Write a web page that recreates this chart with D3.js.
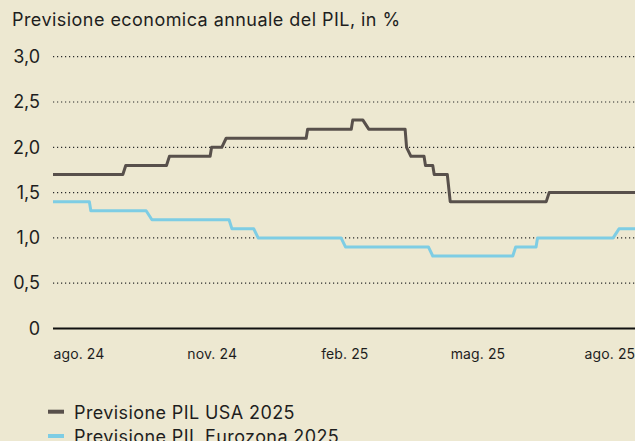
<!DOCTYPE html>
<html>
<head>
<meta charset="utf-8">
<script src="https://cdn.jsdelivr.net/npm/d3@7"></script>
<style>
  html, body { margin: 0; padding: 0; background: #ede8d1; }
  svg { display: block; font-family: Inter, "Noto Sans", sans-serif; }
</style>
</head>
<body>
<div id="chart"></div>
<script>
// step changes of the consensus forecast (each change has a start and end date)
const usaDates = ["2024-08-01","2024-09-18","2024-09-20","2024-10-18","2024-10-20","2024-11-17","2024-11-18",
  "2024-11-25","2024-11-28","2025-01-22","2025-01-23","2025-02-22","2025-02-23","2025-03-02","2025-03-06",
  "2025-03-31","2025-04-01","2025-04-04","2025-04-13","2025-04-14","2025-04-19","2025-04-20","2025-04-29",
  "2025-05-01","2025-07-06","2025-07-08","2025-09-05"];
const usaValues = [1.7,1.7,1.8,1.8,1.9,1.9,2.0,
  2.0,2.1,2.1,2.2,2.2,2.3,2.3,2.2,
  2.2,2.0,1.9,1.9,1.8,1.8,1.7,1.7,
  1.4,1.4,1.5,1.5];

const euroDates = ["2024-08-01","2024-08-26","2024-08-27","2024-10-04","2024-10-08","2024-11-30","2024-12-02",
  "2024-12-17","2024-12-20","2025-02-15","2025-02-18","2025-04-16","2025-04-19","2025-06-13","2025-06-15",
  "2025-06-29","2025-06-30","2025-08-21","2025-08-25","2025-09-05"];
const euroValues = [1.4,1.4,1.3,1.3,1.2,1.2,1.1,
  1.1,1.0,1.0,0.9,0.9,0.8,0.8,0.9,
  0.9,1.0,1.0,1.1,1.1];

const xTickDates = ["2024-08-01","2024-11-01","2025-02-01","2025-05-01","2025-08-01"];
const xTickLabels = ["ago. 24","nov. 24","feb. 25","mag. 25","ago. 25"];
const yTicks = [0, 0.5, 1, 1.5, 2, 2.5, 3];

const seriesNames = ["Previsione PIL USA 2025", "Previsione PIL Eurozona 2025"];
const seriesColors = ["#58504b", "#7ecde4"];

const width = 635, height = 441;
const margin = {left: 53, right: 0, top: 56.7, bottom: 112.5};

const parse = d3.utcParse("%Y-%m-%d");

const svg = d3.select("#chart").append("svg")
  .attr("width", width)
  .attr("height", height);

const x = d3.scaleUtc()
  .domain([parse("2024-08-01"), parse("2025-09-05")])
  .range([margin.left, width - margin.right]);

const y = d3.scaleLinear()
  .domain([0, 3])
  .range([height - margin.bottom, margin.top]);

// title
svg.append("text")
  .attr("x", 12)
  .attr("y", 26)
  .attr("fill", "#1e1e1e")
  .style("font-size", "18px")
  .style("letter-spacing", "0.45px")
  .text("Previsione economica annuale del PIL, in %");

// dotted gridlines
svg.append("g")
  .selectAll("line")
  .data(yTicks.filter(d => d > 0))
  .join("line")
    .attr("x1", margin.left)
    .attr("x2", width)
    .attr("y1", d => y(d))
    .attr("y2", d => y(d))
    .attr("stroke", "#2a2a2a")
    .attr("stroke-width", 1.2)
    .attr("stroke-dasharray", "1.2,2.8");

// y axis labels
const fmt = d => d === 0 ? "0" : d3.format(".1f")(d).replace(".", ",");
const yAxis = svg.append("g")
  .attr("transform", `translate(${margin.left},0)`)
  .call(d3.axisLeft(y).tickValues(yTicks).tickFormat(fmt).tickSize(0).tickPadding(13));
yAxis.select(".domain").remove();
yAxis.selectAll("text")
  .attr("fill", "#1e1e1e")
  .style("font-size", "18px")
  .style("font-family", "Inter, sans-serif");

// x axis labels
const xAxis = svg.append("g")
  .attr("transform", `translate(0,${y(0)})`)
  .call(d3.axisBottom(x)
    .tickValues(xTickDates.map(parse))
    .tickFormat((d, i) => xTickLabels[i])
    .tickSize(0)
    .tickPadding(21));
xAxis.select(".domain").remove();
xAxis.selectAll("text")
  .attr("text-anchor", "start")
  .attr("fill", "#1e1e1e")
  .style("font-size", "14px")
  .style("letter-spacing", "0.1px")
  .style("font-family", "Inter, sans-serif");

// lines
const line = d3.line()
  .x(d => x(d.date))
  .y(d => y(d.value));

const series = [
  usaDates.map((d, i) => ({date: parse(d), value: usaValues[i]})),
  euroDates.map((d, i) => ({date: parse(d), value: euroValues[i]}))
];

svg.append("g")
  .selectAll("path")
  .data(series)
  .join("path")
    .attr("d", line)
    .attr("fill", "none")
    .attr("stroke", (d, i) => seriesColors[i])
    .attr("stroke-width", 3)
    .attr("stroke-linejoin", "round");

// zero axis line
svg.append("line")
  .attr("x1", margin.left)
  .attr("x2", width)
  .attr("y1", y(0))
  .attr("y2", y(0))
  .attr("stroke", "#111")
  .attr("stroke-width", 2.2);

// legend
const legend = svg.append("g")
  .selectAll("g")
  .data(seriesNames)
  .join("g")
    .attr("transform", (d, i) => `translate(48,${411.7 + i * 24.3})`);

legend.append("rect")
  .attr("x", 0)
  .attr("y", -2)
  .attr("width", 16)
  .attr("height", 4)
  .attr("fill", (d, i) => seriesColors[i]);

legend.append("text")
  .attr("x", 26)
  .attr("y", 7.3)
  .attr("fill", "#1e1e1e")
  .style("font-size", "18px")
  .style("letter-spacing", "0.4px")
  .text(d => d);
</script>
</body>
</html>
